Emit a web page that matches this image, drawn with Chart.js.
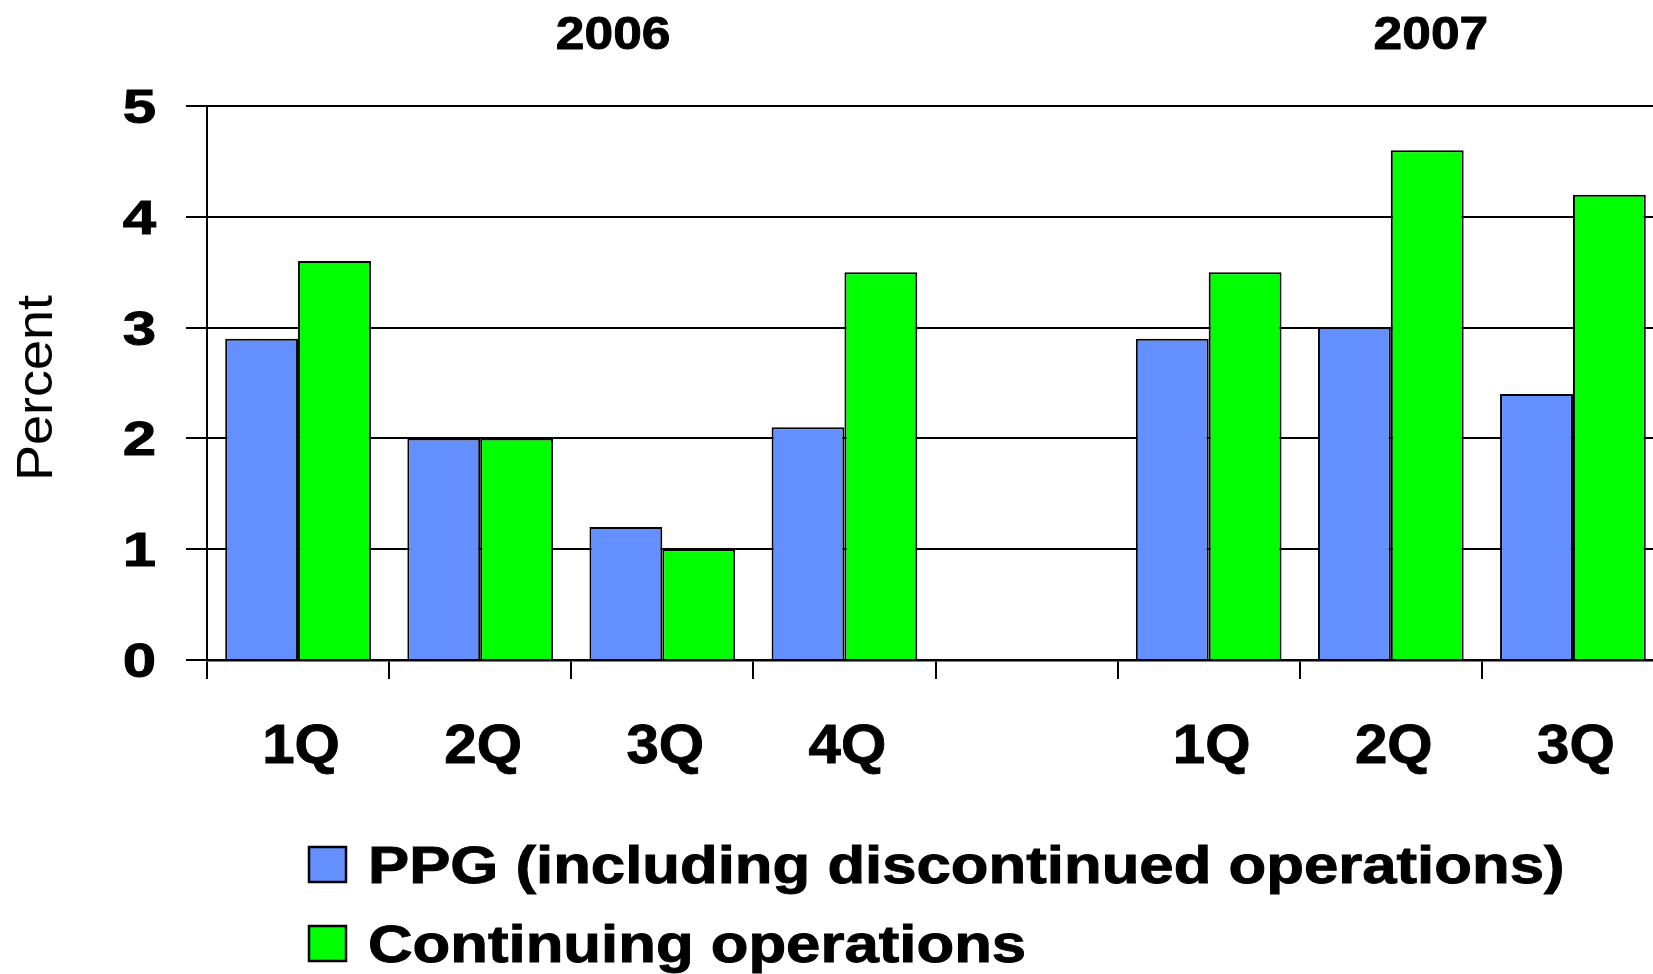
<!DOCTYPE html>
<html>
<head>
<meta charset="utf-8">
<script src="https://cdn.jsdelivr.net/npm/chart.js@4.4.0/dist/chart.umd.min.js"></script>
<style>
html, body { margin: 0; padding: 0; background: #fff; overflow: hidden; }
#wrap { position: absolute; left: 0; top: 0; }
</style>
</head>
<body>
<div id="wrap"><canvas id="barChart" width="1665" height="974"></canvas></div>
<script>
const quarters = ['1Q', '2Q', '3Q', '4Q', '', '1Q', '2Q', '3Q'];
const ppgIncl = [2.9, 2.0, 1.2, 2.1, null, 2.9, 3.0, 2.4];
const continuing = [3.6, 2.0, 1.0, 3.5, null, 3.5, 4.6, 4.2];
const years = ['2006', '2007'];
const yearPos = [1.73, 6.22]; // in category units

const FONT = "'Liberation Sans', Arial, Helvetica, sans-serif";

// the original lettering is a bit wider and heavier than Arial,
// so text is stretched sideways and given a thin outline
function wideText(ctx, text, x, y, sx, align, heavy) {
  ctx.save();
  ctx.translate(x, y);
  ctx.scale(sx, 1);
  ctx.textAlign = align;
  ctx.fillText(text, 0, 0);
  if (heavy) {
    ctx.lineWidth = 0.9;
    ctx.strokeStyle = ctx.fillStyle;
    ctx.strokeText(text, 0, 0);
  }
  ctx.restore();
}

const textPlugin = {
  id: 'texts',
  afterDraw(chart) {
    const ctx = chart.ctx;
    const xs = chart.scales.x;
    const ys = chart.scales.y;
    ctx.save();
    ctx.fillStyle = '#000';
    ctx.textBaseline = 'alphabetic';

    // year headings
    ctx.font = 'bold 46px ' + FONT;
    years.forEach((y, i) => wideText(ctx, y, xs.getPixelForValue(yearPos[i]), 49, 1.12, 'center', true));

    // y tick labels
    ctx.font = 'bold 48px ' + FONT;
    ys.ticks.forEach(t => wideText(ctx, String(t.value), 156, ys.getPixelForValue(t.value) + 17, 1.25, 'right', true));

    // x tick labels
    ctx.font = 'bold 56px ' + FONT;
    chart.data.labels.forEach((lab, i) => {
      if (lab) wideText(ctx, lab, xs.getPixelForValue(i) + 3, 763, 1.04, 'center', true);
    });

    // axis title
    ctx.font = '50px ' + FONT;
    ctx.save();
    ctx.translate(52, 388);
    ctx.rotate(-Math.PI / 2);
    wideText(ctx, 'Percent', 0, 0, 1.08, 'center', false);
    ctx.restore();

    // legend rows
    ctx.font = 'bold 51px ' + FONT;
    chart.data.datasets.forEach((ds, i) => {
      const base = 883 + i * 79;
      ctx.fillStyle = ds.backgroundColor;
      ctx.fillRect(309, base - 36, 37, 35);
      ctx.lineWidth = 2.5;
      ctx.strokeStyle = '#000';
      ctx.strokeRect(309, base - 36, 37, 35);
      ctx.fillStyle = '#000';
      wideText(ctx, ds.label, 368, base, 1.21, 'left', true);
    });
    ctx.restore();
  }
};

new Chart(document.getElementById('barChart'), {
  type: 'bar',
  data: {
    labels: quarters,
    datasets: [
      {
        label: 'PPG (including discontinued operations)',
        data: ppgIncl,
        backgroundColor: '#6490FF',
        borderColor: '#000',
        borderWidth: 2
      },
      {
        label: 'Continuing operations',
        data: continuing,
        backgroundColor: '#00FF00',
        borderColor: '#000',
        borderWidth: 2
      }
    ]
  },
  options: {
    responsive: false,
    animation: false,
    layout: { padding: { top: 106, right: 1, bottom: 194, left: 0 } },
    plugins: {
      legend: { display: false },
      tooltip: { enabled: false }
    },
    datasets: {
      bar: { categoryPercentage: 0.8, barPercentage: 1.0 }
    },
    scales: {
      x: {
        afterFit(scale) { scale.height = 120; },
        grid: { drawOnChartArea: false, drawTicks: true, tickLength: 19, color: '#000', lineWidth: 2 },
        border: { display: true, color: '#000', width: 2.5 },
        ticks: { display: false, autoSkip: false }
      },
      y: {
        min: 0,
        max: 5,
        afterFit(scale) { scale.width = 207; },
        grid: { color: '#000', lineWidth: 2, tickLength: 21 },
        border: { display: true, color: '#000', width: 2 },
        ticks: { stepSize: 1, display: false }
      }
    }
  },
  plugins: [textPlugin]
});
</script>
</body>
</html>
